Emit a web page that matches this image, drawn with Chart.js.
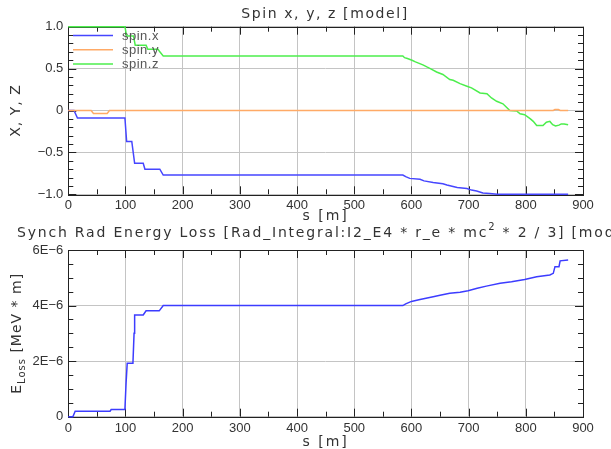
<!DOCTYPE html>
<html>
<head>
<meta charset="utf-8">
<script src="https://cdn.jsdelivr.net/npm/chart.js@4.4.1/dist/chart.umd.min.js"></script>
<style>
    html, body { margin: 0; padding: 0; background: #fff; }
    #wrap { position: relative; width: 611px; height: 449px; overflow: hidden; }
    canvas { position: absolute; left: 0; }
    #spinChart { top: 0; }
    #lossChart { top: 222px; }
</style>
</head>
<body>
<div id="wrap">
    <canvas id="spinChart" width="611" height="222"></canvas>
    <canvas id="lossChart" width="611" height="227"></canvas>
</div>
<script>
// Spin components along the lattice (s in metres)
const spinXs = [0, 10, 16, 99, 102, 111, 116, 131, 134, 160, 166, 585, 590, 597, 615, 622, 638, 655, 662, 680, 697, 705, 714, 725, 737, 750, 874];
const spinXv = [0, 0, -0.09, -0.09, -0.37, -0.37, -0.63, -0.63, -0.70, -0.70, -0.77, -0.77, -0.79, -0.81, -0.82, -0.84, -0.86, -0.875, -0.89, -0.92, -0.93, -0.95, -0.96, -0.985, -0.99, -1.0, -1.0];

const spinYs = [0, 40, 44, 68, 72, 848, 851, 857, 860, 874];
const spinYv = [0, 0, -0.035, -0.035, 0, 0, 0.012, 0.012, 0, 0];

const spinZs = [0, 99, 102, 114, 117, 136, 139, 157, 160, 166, 585, 588, 593, 601, 607, 620, 627, 633, 644, 655, 667, 673, 685, 697, 705, 720, 732, 740, 749, 760, 772, 784, 790, 798, 808, 813, 819, 830, 836, 842, 847, 852, 858, 862, 867, 874];
const spinZv = [1.0, 1.0, 0.89, 0.89, 0.78, 0.78, 0.73, 0.73, 0.70, 0.65, 0.65, 0.63, 0.62, 0.60, 0.58, 0.545, 0.52, 0.50, 0.46, 0.43, 0.37, 0.36, 0.32, 0.29, 0.27, 0.21, 0.20, 0.15, 0.11, 0.08, 0.0, -0.005, -0.04, -0.05, -0.10, -0.13, -0.18, -0.18, -0.14, -0.13, -0.17, -0.185, -0.175, -0.16, -0.16, -0.17];

// Integrated synchrotron radiation energy loss
const lossS = [0, 8, 12, 73, 75, 99, 101, 103, 113, 115, 116, 131, 136, 159, 166, 585, 590, 600, 615, 638, 650, 667, 685, 699, 715, 731, 755, 775, 798, 819, 842, 848, 851, 858, 860, 874];
const lossV = [0, 0, 0.2e-6, 0.2e-6, 0.26e-6, 0.26e-6, 1.2e-6, 1.92e-6, 1.92e-6, 3.0e-6, 3.66e-6, 3.66e-6, 3.81e-6, 3.81e-6, 4.0e-6, 4.0e-6, 4.06e-6, 4.15e-6, 4.22e-6, 4.32e-6, 4.37e-6, 4.44e-6, 4.48e-6, 4.53e-6, 4.62e-6, 4.70e-6, 4.80e-6, 4.86e-6, 4.94e-6, 5.04e-6, 5.10e-6, 5.16e-6, 5.40e-6, 5.40e-6, 5.61e-6, 5.64e-6];

// Axis ticks
const sTicks = [0, 100, 200, 300, 400, 500, 600, 700, 800, 900];
const spinTicks = [-1.0, -0.5, 0, 0.5, 1.0];
const lossTicks = [0, 2e-6, 4e-6, 6e-6];

const FONT = "'Liberation Sans', Arial, sans-serif";
const TITLE_FONT = "'DejaVu Sans', sans-serif";
const TEXT = '#333';

const pts = (s, v) => s.map((x, i) => ({ x: x, y: v[i] }));
const minus = (str) => str.replace('-', '\u2212');

function setTicks(list) {
    return (scale) => { scale.ticks = list.map(v => ({ value: v })); };
}

// frame + inward tick marks go under the curves, text goes on top
function framePlugin(cfg) {
    return {
        id: 'frame',
        beforeDatasetsDraw(chart) {
            const ctx = chart.ctx;
            const a = chart.chartArea;
            const xs = chart.scales.x, ys = chart.scales.y;
            ctx.save();
            ctx.strokeStyle = '#222';
            ctx.lineWidth = 1;
            ctx.strokeRect(Math.round(a.left) + 0.5, Math.round(a.top) + 0.5,
                Math.round(a.right - a.left), Math.round(a.bottom - a.top));

            ctx.beginPath();
            for (let s = 0; s <= 900; s += 50) {
                const px = Math.round(xs.getPixelForValue(s)) + 0.5;
                const len = s % 100 === 0 ? 8 : 5;
                ctx.moveTo(px, a.top); ctx.lineTo(px, a.top + len);
                ctx.moveTo(px, a.bottom); ctx.lineTo(px, a.bottom - len);
            }
            const n = Math.round((cfg.yMax - cfg.yMin) / cfg.yMinor);
            for (let i = 0; i <= n; i++) {
                const v = cfg.yMin + i * cfg.yMinor;
                const py = Math.round(ys.getPixelForValue(v)) + 0.5;
                const len = i % cfg.majorEvery === 0 ? 8 : 5;
                ctx.moveTo(a.left, py); ctx.lineTo(a.left + len, py);
                ctx.moveTo(a.right, py); ctx.lineTo(a.right - len, py);
            }
            ctx.stroke();
            ctx.restore();
        },
        afterDraw(chart) {
            const ctx = chart.ctx;
            const a = chart.chartArea;
            ctx.save();

            // titles
            ctx.fillStyle = TEXT;
            ctx.textBaseline = 'middle';
            ctx.letterSpacing = cfg.titleSpacing;
            ctx.font = '14px ' + TITLE_FONT;
            if (cfg.titleAlign === 'center') {
                ctx.textAlign = 'center';
                ctx.fillText(cfg.title, cfg.titleX, cfg.titleY);
            } else {
                ctx.textAlign = 'left';
                let x = cfg.titleX;
                cfg.title.forEach(part => {
                    ctx.font = (part.sup ? '10px ' : '14px ') + TITLE_FONT;
                    ctx.fillText(part.t, x, cfg.titleY - (part.sup ? 6 : 0));
                    x += ctx.measureText(part.t).width;
                });
            }

            ctx.font = '14px ' + TITLE_FONT;
            ctx.textAlign = 'center';
            ctx.letterSpacing = '2px';
            ctx.fillText('s [m]', (a.left + a.right) / 2, cfg.xLabelY);

            // rotated y label, optional subscript part
            ctx.letterSpacing = '1px';
            ctx.save();
            ctx.translate(cfg.yLabelX, (a.top + a.bottom) / 2);
            ctx.rotate(-Math.PI / 2);
            ctx.textAlign = 'left';
            let w = 0;
            cfg.yLabel.forEach(part => {
                ctx.font = (part.sub ? '10px ' : '14px ') + TITLE_FONT;
                w += ctx.measureText(part.t).width;
            });
            let x = -w / 2;
            cfg.yLabel.forEach(part => {
                ctx.font = (part.sub ? '10px ' : '14px ') + TITLE_FONT;
                ctx.fillText(part.t, x, part.sub ? 5 : 0);
                x += ctx.measureText(part.t).width;
            });
            ctx.restore();

            if (cfg.legend) {
                ctx.letterSpacing = '0.5px';
                ctx.font = '13px ' + FONT;
                ctx.textAlign = 'left';
                chart.data.datasets.forEach((ds, i) => {
                    const y = 35.5 + i * 14.2;
                    ctx.strokeStyle = ds.borderColor;
                    ctx.lineWidth = 1.5;
                    ctx.beginPath();
                    ctx.moveTo(73, y); ctx.lineTo(113, y);
                    ctx.stroke();
                    ctx.fillStyle = '#555';
                    ctx.fillText(ds.label, 122, y + 1);
                });
            }
            ctx.restore();
        }
    };
}

function axisX(height, pad) {
    return {
        type: 'linear', min: 0, max: 900,
        afterBuildTicks: setTicks(sTicks),
        afterFit: (s) => { s.height = height; },
        grid: { color: '#c4c4c4', drawTicks: false },
        border: { display: false },
        ticks: { padding: pad, color: TEXT, font: { family: FONT, size: 13 }, maxRotation: 0, autoSkip: false, callback: v => String(v) }
    };
}

const lineStyle = { borderWidth: 1.5, pointRadius: 0, tension: 0, fill: false, clip: 3 };

Chart.defaults.animation = false;

new Chart(document.getElementById('spinChart'), {
    type: 'line',
    data: {
        datasets: [
            { label: 'spin.x', data: pts(spinXs, spinXv), borderColor: '#4646ff', ...lineStyle, order: 3 },
            { label: 'spin.y', data: pts(spinYs, spinYv), borderColor: '#ffaa66', ...lineStyle, order: 1 },
            { label: 'spin.z', data: pts(spinZs, spinZv), borderColor: '#4cee4c', ...lineStyle, order: 2 }
        ]
    },
    options: {
        responsive: false,
        layout: { padding: { top: 26.7, right: 28, left: 0, bottom: 0 } },
        plugins: { legend: { display: false }, tooltip: { enabled: false } },
        scales: {
            x: axisX(27.7, 3),
            y: {
                min: -1, max: 1,
                afterBuildTicks: setTicks(spinTicks),
                afterFit: (s) => { s.width = 68.3; },
                grid: { color: '#c4c4c4', drawTicks: false },
                border: { display: false },
                ticks: {
                    padding: 5, color: TEXT, font: { family: FONT, size: 13 },
                    callback: v => v === 0 ? '0' : minus(v.toFixed(1))
                }
            }
        }
    },
    plugins: [framePlugin({
        yMin: -1, yMax: 1, yMinor: 0.1, majorEvery: 5,
        title: 'Spin x, y, z [model]', titleAlign: 'center', titleX: 325, titleY: 14,
        titleSpacing: '1.6px',
        xLabelY: 216, yLabelX: 16.5,
        yLabel: [{ t: 'X, Y, Z' }],
        legend: true
    })]
});

new Chart(document.getElementById('lossChart'), {
    type: 'line',
    data: {
        datasets: [
            { label: 'E_Loss', data: pts(lossS, lossV), borderColor: '#3c3cff', ...lineStyle }
        ]
    },
    options: {
        responsive: false,
        layout: { padding: { top: 28, right: 28, left: 0, bottom: 0 } },
        plugins: { legend: { display: false }, tooltip: { enabled: false } },
        scales: {
            x: axisX(32.3, 4),
            y: {
                min: 0, max: 6e-6,
                afterBuildTicks: setTicks(lossTicks),
                afterFit: (s) => { s.width = 68.3; },
                grid: { color: '#c4c4c4', drawTicks: false },
                border: { display: false },
                ticks: {
                    padding: 5, color: TEXT, font: { family: FONT, size: 13 },
                    callback: v => v === 0 ? '0' : Math.round(v * 1e6) + 'E\u22126'
                }
            }
        }
    },
    plugins: [framePlugin({
        yMin: 0, yMax: 6e-6, yMinor: 0.5e-6, majorEvery: 4,
        title: [
            { t: 'Synch Rad Energy Loss [Rad_Integral:I2_E4 * r_e * mc' },
            { t: '2', sup: true },
            { t: ' * 2 / 3] [model]' }
        ],
        titleAlign: 'left', titleX: 17, titleY: 11,
        titleSpacing: '1.8px',
        xLabelY: 220, yLabelX: 17,
        yLabel: [{ t: 'E' }, { t: 'Loss', sub: true }, { t: ' [MeV * m]' }],
        legend: false
    })]
});
</script>
</body>
</html>
